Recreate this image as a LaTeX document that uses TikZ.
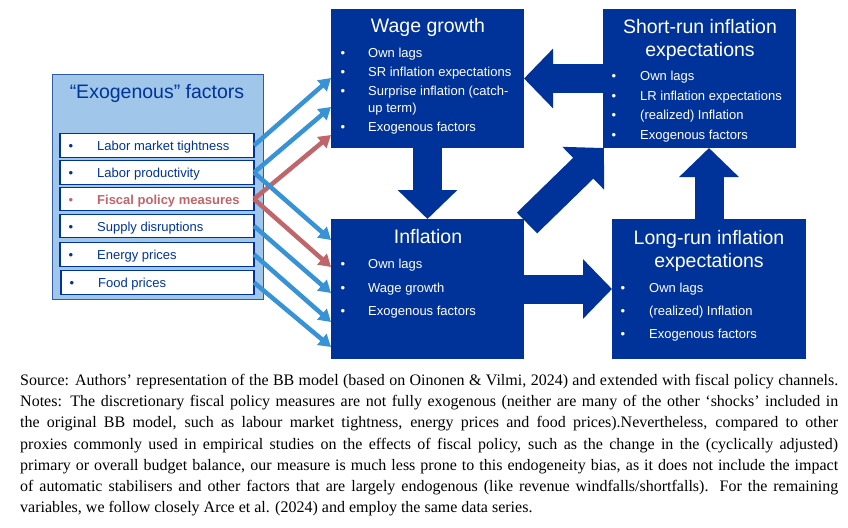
\documentclass[tikz,border=0pt]{standalone}
\usepackage{fontspec}
\setmainfont{Liberation Sans}
\newfontfamily\notefont{Liberation Serif}
\usetikzlibrary{arrows.meta,calc}
\definecolor{navy}{RGB}{0,51,153}
\definecolor{lightbox}{RGB}{160,198,233}
\definecolor{exoborder}{RGB}{47,90,165}
\definecolor{arrblue}{RGB}{56,146,214}
\definecolor{arrred}{RGB}{192,102,107}
\begin{document}
\begin{tikzpicture}[x=1pt,y=-1pt,
  navybox/.style={fill=navy, draw=none, inner sep=0pt, outer sep=0pt, anchor=north west},
  exobox/.style={fill=lightbox, draw=exoborder, line width=1pt, inner sep=0pt, outer sep=0pt, anchor=north west},
  itembox/.style={fill=white, draw=navy, line width=1.4pt, minimum width=194pt, minimum height=23.5pt, inner sep=0pt, outer sep=0pt, anchor=west},
  bigarrow/.style={navy, line width=29pt, line cap=butt, -{Triangle[width=58pt,length=29pt]}},
  thinarrow/.style={line width=4.5pt, line cap=butt, -{Triangle[width=14pt,length=12pt]}},
  title/.style={white, font=\fontsize{19.5}{23}\selectfont, inner sep=0pt, text height=17pt, text depth=2pt},
  btext/.style={white, font=\fontsize{13}{15}\selectfont, anchor=west, inner sep=0pt, text height=11.8pt, text depth=1.4pt},
  bul/.style={btext, font=\fontsize{13}{15}\selectfont, anchor=center},
  itext/.style={btext, navy},
  ibul/.style={bul, navy},
]
\useasboundingbox (0,0) rectangle (848,527);
\fill[white] (0,0) rectangle (848,527);

% exogenous factors box
\node[exobox, minimum width=211pt, minimum height=225pt] (exo) at (52,74) {};
\node[title, navy] (exotitle) at (157,91) {“Exogenous” factors};
\node[itembox] (it1) at (60,145.5) {};
\node[itembox] (it2) at (60,172.5) {};
\node[itembox] (it3) at (60,199) {};
\node[itembox] (it4) at (60,226) {};
\node[itembox] (it5) at (60,254.5) {};
\node[itembox, minimum width=193pt] (it6) at (61,282.5) {};
\node[ibul] (b1) at (71,145.5) {•};
\node[itext] (t1) at (97,145.5) {Labor market tightness};
\node[ibul] (b2) at (71,172.5) {•};
\node[itext] (t2) at (97,172.5) {Labor productivity};
\node[ibul, arrred] (b3) at (71,199) {•};
\node[itext, arrred, font=\fontsize{13}{15}\selectfont\bfseries] (t3) at (97,199) {Fiscal policy measures};
\node[ibul] (b4) at (71,226) {•};
\node[itext] (t4) at (97,226) {Supply disruptions};
\node[ibul] (b5) at (71,254.5) {•};
\node[itext] (t5) at (97,254.5) {Energy prices};
\node[ibul] (b6) at (72,282.5) {•};
\node[itext] (t6) at (98,282.5) {Food prices};

% main boxes
\node[navybox, minimum width=193pt, minimum height=139pt] (wage) at (331,9) {};
\node[navybox, minimum width=193pt, minimum height=140pt] (infl) at (331,219) {};
\node[navybox, minimum width=193pt, minimum height=139pt] (sr) at (603,9) {};
\node[navybox, minimum width=194pt, minimum height=140pt] (lr) at (612,219) {};

% arrow end points on the boxes
\coordinate (w1) at ($(wage.north west)+(0,69)$);
\coordinate (w2) at ($(wage.north west)+(0,98)$);
\coordinate (w3) at ($(wage.north west)+(0,126)$);
\coordinate (f1) at ($(infl.north west)+(0,21)$);
\coordinate (f2) at ($(infl.north west)+(0,48)$);
\coordinate (f3) at ($(infl.north west)+(0,74)$);
\coordinate (f4) at ($(infl.north west)+(0,103)$);
\coordinate (f5) at ($(infl.north west)+(0,128)$);

% thin arrows
\draw[thinarrow, arrblue] (it1.east) -- (w1);
\draw[thinarrow, arrblue] (it2.east) -- (w2);
\draw[thinarrow, arrred] (it3.east) -- (w3);
\draw[thinarrow, arrblue] (it2.east) -- (f1);
\draw[thinarrow, arrred] (it3.east) -- (f2);
\draw[thinarrow, arrblue] (it4.east) -- (f3);
\draw[thinarrow, arrblue] (it5.east) -- (f4);
\draw[thinarrow, arrblue] (it6.east) -- (f5);

% big block arrows
\coordinate (dtail) at ($(infl.north east)+(3,4)$);
\coordinate (dtip) at ($(sr.south west)+(1,0)$);
\draw[bigarrow] (wage.south) -- (infl.north);
\draw[bigarrow] (sr.west) -- (wage.east);
\draw[bigarrow] (lr.north) -- (lr.north |- sr.south);
\draw[bigarrow] (infl.east) -- (lr.west);
\draw[bigarrow] (dtail) -- (dtip);

% redraw boxes on top
\fill[navy] (wage.north west) rectangle (wage.south east);
\fill[navy] (infl.north west) rectangle (infl.south east);
\fill[navy] (sr.north west) rectangle (sr.south east);
\fill[navy] (lr.north west) rectangle (lr.south east);

% wage growth text
\node[title] (wt) at (428,25) {Wage growth};
\node[bul] at (343,52) {•};
\node[btext] (w-a) at (368,52) {Own lags};
\node[bul] at (343,71) {•};
\node[btext] (w-b) at (368,71) {SR inflation expectations};
\node[bul] at (343,90) {•};
\node[btext] (w-c) at (368,90) {Surprise inflation (catch-};
\node[btext] (w-c2) at (368,107) {up term)};
\node[bul] at (343,126) {•};
\node[btext] (w-d) at (368,126) {Exogenous factors};

% inflation text
\node[title] (ft) at (428,236) {Inflation};
\node[bul] at (343,263) {•};
\node[btext] (f-a) at (368,263) {Own lags};
\node[bul] at (343,287) {•};
\node[btext] (f-b) at (368,287) {Wage growth};
\node[bul] at (343,310) {•};
\node[btext] (f-c) at (368,310) {Exogenous factors};

% short-run text
\node[title] (st1) at (700,26) {Short-run inflation};
\node[title] (st2) at (700,49) {expectations};
\node[bul] at (614,75) {•};
\node[btext] (s-a) at (640,75) {Own lags};
\node[bul] at (614,95) {•};
\node[btext] (s-b) at (640,95) {LR inflation expectations};
\node[bul] at (614,114) {•};
\node[btext] (s-c) at (640,114) {(realized) Inflation};
\node[bul] at (614,134) {•};
\node[btext] (s-d) at (640,134) {Exogenous factors};

% long-run text
\node[title] (lt1) at (709,237) {Long-run inflation};
\node[title] (lt2) at (709,260) {expectations};
\node[bul] at (623,287) {•};
\node[btext] (l-a) at (649,287) {Own lags};
\node[bul] at (623,310) {•};
\node[btext] (l-b) at (649,310) {(realized) Inflation};
\node[bul] at (623,333) {•};
\node[btext] (l-c) at (649,333) {Exogenous factors};

% note
\node[anchor=north west, inner sep=0pt, text width=818pt, align=justify,
  font=\notefont\fontsize{16}{21.2}\selectfont] (note) at (20,374) {%
\hyphenpenalty=10000\exhyphenpenalty=10000\emergencystretch=3em
Source: Authors’ representation of the BB model (based on Oinonen \& Vilmi, 2024) and extended with fiscal policy channels.\linebreak
Notes: The discretionary fiscal policy measures are not fully exogenous (neither are many of the other ‘shocks’ included in\linebreak
the original BB model, such as labour market tightness, energy prices and food prices).Nevertheless, compared to other\linebreak
proxies commonly used in empirical studies on the effects of fiscal policy, such as the change in the (cyclically adjusted)\linebreak
primary or overall budget balance, our measure is much less prone to this endogeneity bias, as it does not include the impact\linebreak
of automatic stabilisers and other factors that are largely endogenous (like revenue windfalls/shortfalls). For the remaining\linebreak
variables, we follow closely Arce et al. (2024) and employ the same data series.};
\end{tikzpicture}
\end{document}
